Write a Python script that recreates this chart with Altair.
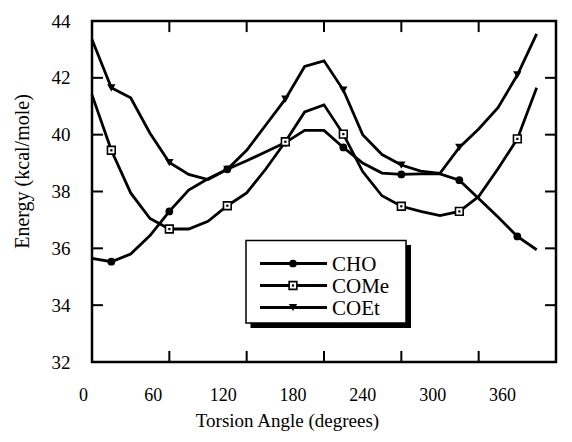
import altair as alt
import pandas as pd

# ---------------- data ----------------
angles = list(range(0, 360, 15))
cho = [35.65, 35.53, 35.8, 36.45, 37.3, 38.05, 38.45, 38.78, 39.08, 39.4, 39.72, 40.15,
       40.15, 39.55, 39.0, 38.65, 38.6, 38.62, 38.62, 38.4, 37.75, 37.1, 36.42, 35.95]
come = [41.4, 39.45, 37.95, 37.05, 36.68, 36.68, 36.95, 37.5, 37.95, 38.8, 39.75, 40.8,
        41.05, 40.02, 38.7, 37.85, 37.48, 37.3, 37.15, 37.3, 37.82, 38.8, 39.85, 41.65]
coet = [43.35, 41.65, 41.3, 40.05, 39.02, 38.6, 38.42, 38.78, 39.45, 40.35, 41.25, 42.4,
        42.6, 41.57, 40.0, 39.3, 38.93, 38.72, 38.64, 39.55, 40.2, 40.95, 42.1, 43.55]
series_names = ["CHO", "COMe", "COEt"]
x_ticks = [0, 60, 120, 180, 240, 300, 360]
y_ticks = [32, 34, 36, 38, 40, 42, 44]

rows = []
for name, vals in zip(series_names, [cho, come, coet]):
    for a, v in zip(angles, vals):
        rows.append({"angle": a, "energy": v, "series": name, "marker": (a % 45) == 15})
df = pd.DataFrame(rows)

FONT = "Liberation Serif"
W, H = 464, 341
xs = alt.Scale(domain=[0, 360], nice=False, zero=False)
ys = alt.Scale(domain=[32, 44], nice=False, zero=False)

x_axis = alt.Axis(values=x_ticks, ticks=False, domain=False, grid=False,
                  labelPadding=24, labelFontSize=18, labelFlush=False, labelOverlap=False,
                  labelOffset={"expr": "-9 - 0.125*datum.value"},
                  title="Torsion Angle (degrees)", titleFontSize=19,
                  titleX=195, titleY=64, titleBaseline="alphabetic")
y_axis = alt.Axis(values=y_ticks, ticks=False, domain=False, grid=False,
                  labelPadding=22, labelFontSize=19, labelFlush=False, labelOverlap=False,
                  title="Energy (kcal/mole)", titleFontSize=20,
                  titleX=-64, titleY=150, titleAlign="center", titleBaseline="alphabetic")

base = alt.Chart(df)
lines = base.mark_line(color="black", strokeWidth=2.8).encode(
    x=alt.X("angle:Q", scale=xs, axis=x_axis),
    y=alt.Y("energy:Q", scale=ys, axis=y_axis),
    detail="series:N",
)

def pts(name):
    return base.transform_filter(
        (alt.datum.series == name) & (alt.datum.marker == True)
    ).encode(x=alt.X("angle:Q", scale=xs), y=alt.Y("energy:Q", scale=ys))

cho_pts = pts("CHO").mark_point(shape="circle", filled=True, color="black", size=60, opacity=1)
come_pts = pts("COMe").mark_point(shape="square", filled=True, fill="white", stroke="black",
                                  strokeWidth=1.6, size=60, opacity=1)
come_dot = pts("COMe").mark_point(shape="square", filled=True, color="black", size=5, opacity=1)
coet_pts = pts("COEt").mark_point(shape="triangle-down", filled=True, color="black", size=70, opacity=1)

# inward ticks on all four sides
TX = 0.39   # tick length in energy units (~11 px)
TY = 8.5    # tick length in degrees (~11 px)
inner_x = pd.DataFrame({"t": x_ticks[1:-1]})
inner_y = pd.DataFrame({"t": y_ticks[1:-1]})
tick_bottom = alt.Chart(inner_x).mark_rule(color="black", strokeWidth=2).encode(
    x=alt.X("t:Q", scale=xs), y=alt.datum(32), y2=alt.datum(32 + TX))
tick_top = alt.Chart(inner_x).mark_rule(color="black", strokeWidth=2).encode(
    x=alt.X("t:Q", scale=xs), y=alt.datum(44), y2=alt.datum(44 - TX))
tick_left = alt.Chart(inner_y).mark_rule(color="black", strokeWidth=2).encode(
    y=alt.Y("t:Q", scale=ys), x=alt.datum(0), x2=alt.datum(TY))
tick_right = alt.Chart(inner_y).mark_rule(color="black", strokeWidth=2).encode(
    y=alt.Y("t:Q", scale=ys), x=alt.datum(360), x2=alt.datum(360 - TY))

# legend box (drawn in pixel space)
box_df = pd.DataFrame({"k": [0]})
shadow = alt.Chart(box_df).mark_rect(color="black").encode(
    x=alt.value(158.5), x2=alt.value(319), y=alt.value(224), y2=alt.value(307))
box = alt.Chart(box_df).mark_rect(fill="white", stroke="black", strokeWidth=1.5).encode(
    x=alt.value(154), x2=alt.value(314), y=alt.value(219.5), y2=alt.value(302))

legend_layers = [shadow, box]
row_y = [242.5, 264.5, 286.5]
for name, yy in zip(series_names, row_y):
    ldf = pd.DataFrame({"series": [name]})
    lc = alt.Chart(ldf)
    legend_layers.append(lc.mark_rule(color="black", strokeWidth=2.8).encode(
        x=alt.value(168), x2=alt.value(235), y=alt.value(yy)))
    if name == "CHO":
        legend_layers.append(lc.mark_point(shape="circle", filled=True, color="black",
                                           size=60, opacity=1).encode(x=alt.value(201), y=alt.value(yy)))
    elif name == "COMe":
        legend_layers.append(lc.mark_point(shape="square", filled=True, fill="white", stroke="black",
                                           strokeWidth=1.6, size=60, opacity=1).encode(x=alt.value(201), y=alt.value(yy)))
        legend_layers.append(lc.mark_point(shape="square", filled=True, color="black",
                                           size=5, opacity=1).encode(x=alt.value(201), y=alt.value(yy)))
    else:
        legend_layers.append(lc.mark_point(shape="triangle-down", filled=True, color="black",
                                           size=70, opacity=1).encode(x=alt.value(201), y=alt.value(yy)))
    legend_layers.append(lc.mark_text(align="left", baseline="middle", font=FONT, fontSize=21,
                                      color="black", dy=1).encode(
        x=alt.value(240), y=alt.value(yy), text="series:N"))

chart = alt.layer(
    lines, cho_pts, come_pts, come_dot, coet_pts,
    tick_bottom, tick_top, tick_left, tick_right,
    *legend_layers,
).properties(
    width=W, height=H,
    autosize=alt.AutoSizeParams(type="none"),
    padding={"left": 84, "top": 13, "right": 8, "bottom": 76},
    background="white",
).configure_view(
    stroke="black", strokeWidth=2.5
).configure_axis(
    labelFont=FONT, titleFont=FONT, labelColor="black", titleColor="black",
    titleFontWeight="normal",
)

chart.save("out.html", embed_options={"renderer": "svg", "actions": False})
